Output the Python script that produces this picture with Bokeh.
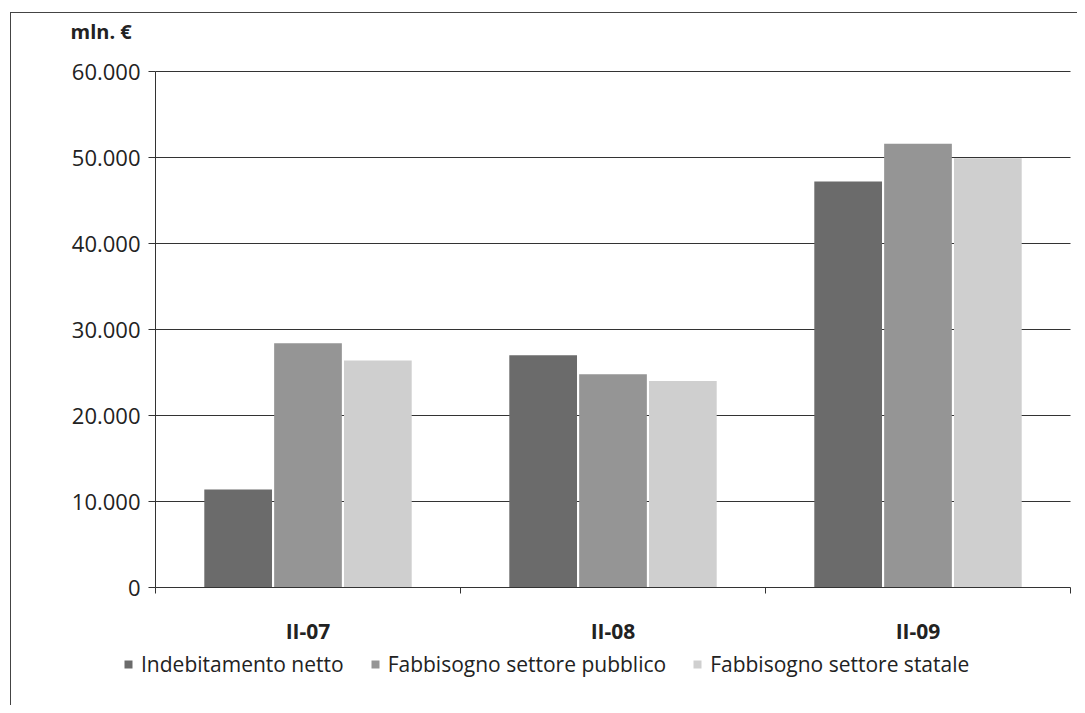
import numpy as np
from bokeh.plotting import figure
from bokeh.models import (Range1d, FixedTicker, ColumnDataSource, Legend, LegendItem,
                          LinearAxis, Label)
from bokeh.embed import file_html
from bokeh.resources import INLINE

categories = ["II-07", "II-08", "II-09"]
series_names = ["Indebitamento netto", "Fabbisogno settore pubblico", "Fabbisogno settore statale"]
indebitamento = [11400, 27000, 47200]
fabb_pubblico = [28400, 24800, 51600]
fabb_statale = [26400, 24000, 49900]
y_ticks = [0, 10000, 20000, 30000, 40000, 50000, 60000]
unit_label = "mln. €"

colors = ["#6b6b6b", "#959595", "#cfcfcf"]
offsets = [-0.229, 0.0, 0.229]
bar_w = 0.222
FONT = "Open Sans"
INK = "#222222"
LINE = "#333333"

# layout in pixels (figure = frame)
W, H = 1077, 705
PX_LEFT, PX_RIGHT = 155, 1070      # horizontal extent of the category axis
PX_TOP, PX_ZERO = 71, 587          # y of top tick and of zero line
n = len(categories)
ymax = y_ticks[-1]
ux = (PX_RIGHT - PX_LEFT) / n
uy = (PX_ZERO - PX_TOP) / ymax
x_range = Range1d(-PX_LEFT / ux, n + (W - PX_RIGHT) / ux)
y_range = Range1d(-(H - PX_ZERO) / uy, ymax + PX_TOP / uy)

p = figure(width=W, height=H, output_backend="svg", toolbar_location=None,
           x_range=x_range, y_range=y_range,
           min_border=0, x_axis_type=None, y_axis_type=None)
p.outline_line_color = None
p.background_fill_alpha = 0
p.border_fill_alpha = 0
p.styles = {
    "background": ("linear-gradient(#444,#444) 10px 12px / 1px 100% no-repeat, "
                   "linear-gradient(#444,#444) 10px 12px / 100% 1px no-repeat, #ffffff"),
}

# horizontal gridlines (spanning the category area only)
grid_y = y_ticks[1:]
p.segment(x0=[0] * len(grid_y), x1=[n] * len(grid_y), y0=grid_y, y1=grid_y,
          line_color=LINE, line_width=1)

idx = np.arange(n)
renderers = []
for vals, col, off in zip([indebitamento, fabb_pubblico, fabb_statale], colors, offsets):
    src = ColumnDataSource(dict(x=idx + 0.5 + off, top=vals))
    r = p.vbar(x="x", top="top", width=bar_w, bottom=0, source=src,
               fill_color=col, line_color=None)
    renderers.append(r)

# y axis at x = 0
yax = LinearAxis(ticker=FixedTicker(ticks=y_ticks), fixed_location=0, bounds=(0, ymax))
yax.major_label_overrides = {t: f"{t:,}".replace(",", ".") for t in y_ticks}
yax.major_label_text_font = FONT
yax.major_label_text_font_size = "22px"
yax.major_label_text_color = INK
yax.major_tick_out = 7
yax.major_tick_in = 0
yax.minor_tick_out = 0
yax.minor_tick_in = 0
yax.major_label_standoff = 8
yax.axis_line_color = LINE
yax.major_tick_line_color = LINE
p.add_layout(yax, "left")

# x axis at y = 0: labels at centers, ticks at category boundaries (minor ticks)
centers = [i + 0.5 for i in range(n)]
xax = LinearAxis(ticker=FixedTicker(ticks=centers, minor_ticks=list(range(n + 1))),
                 fixed_location=0, bounds=(0, n))
xax.major_label_overrides = {c: cat for c, cat in zip(centers, categories)}
xax.major_label_text_font = FONT
xax.major_label_text_font_style = "bold"
xax.major_label_text_font_size = "21px"
xax.major_label_text_color = INK
xax.major_tick_out = 0
xax.major_tick_in = 0
xax.minor_tick_out = 6
xax.minor_tick_in = 0
xax.minor_tick_line_color = LINE
xax.major_label_standoff = 23
xax.axis_line_color = LINE
p.add_layout(xax, "below")

legend = Legend(items=[LegendItem(label=nm, renderers=[r]) for nm, r in zip(series_names, renderers)],
                orientation="horizontal", location=(123, H - 678))
legend.label_text_font = FONT
legend.label_text_font_size = "21px"
legend.label_text_color = INK
legend.glyph_width = 10
legend.glyph_height = 10
legend.label_standoff = 8
legend.spacing = 26
legend.padding = 0
legend.margin = 0
legend.border_line_color = None
legend.background_fill_alpha = 0
p.add_layout(legend, "center")

p.add_layout(Label(x=70, y=H - 31, x_units="screen", y_units="screen", text=unit_label,
                   text_font=FONT, text_font_style="bold", text_font_size="20px",
                   text_color=INK, text_baseline="middle", text_align="left"))

open("out.html", "w").write(file_html(p, INLINE))
